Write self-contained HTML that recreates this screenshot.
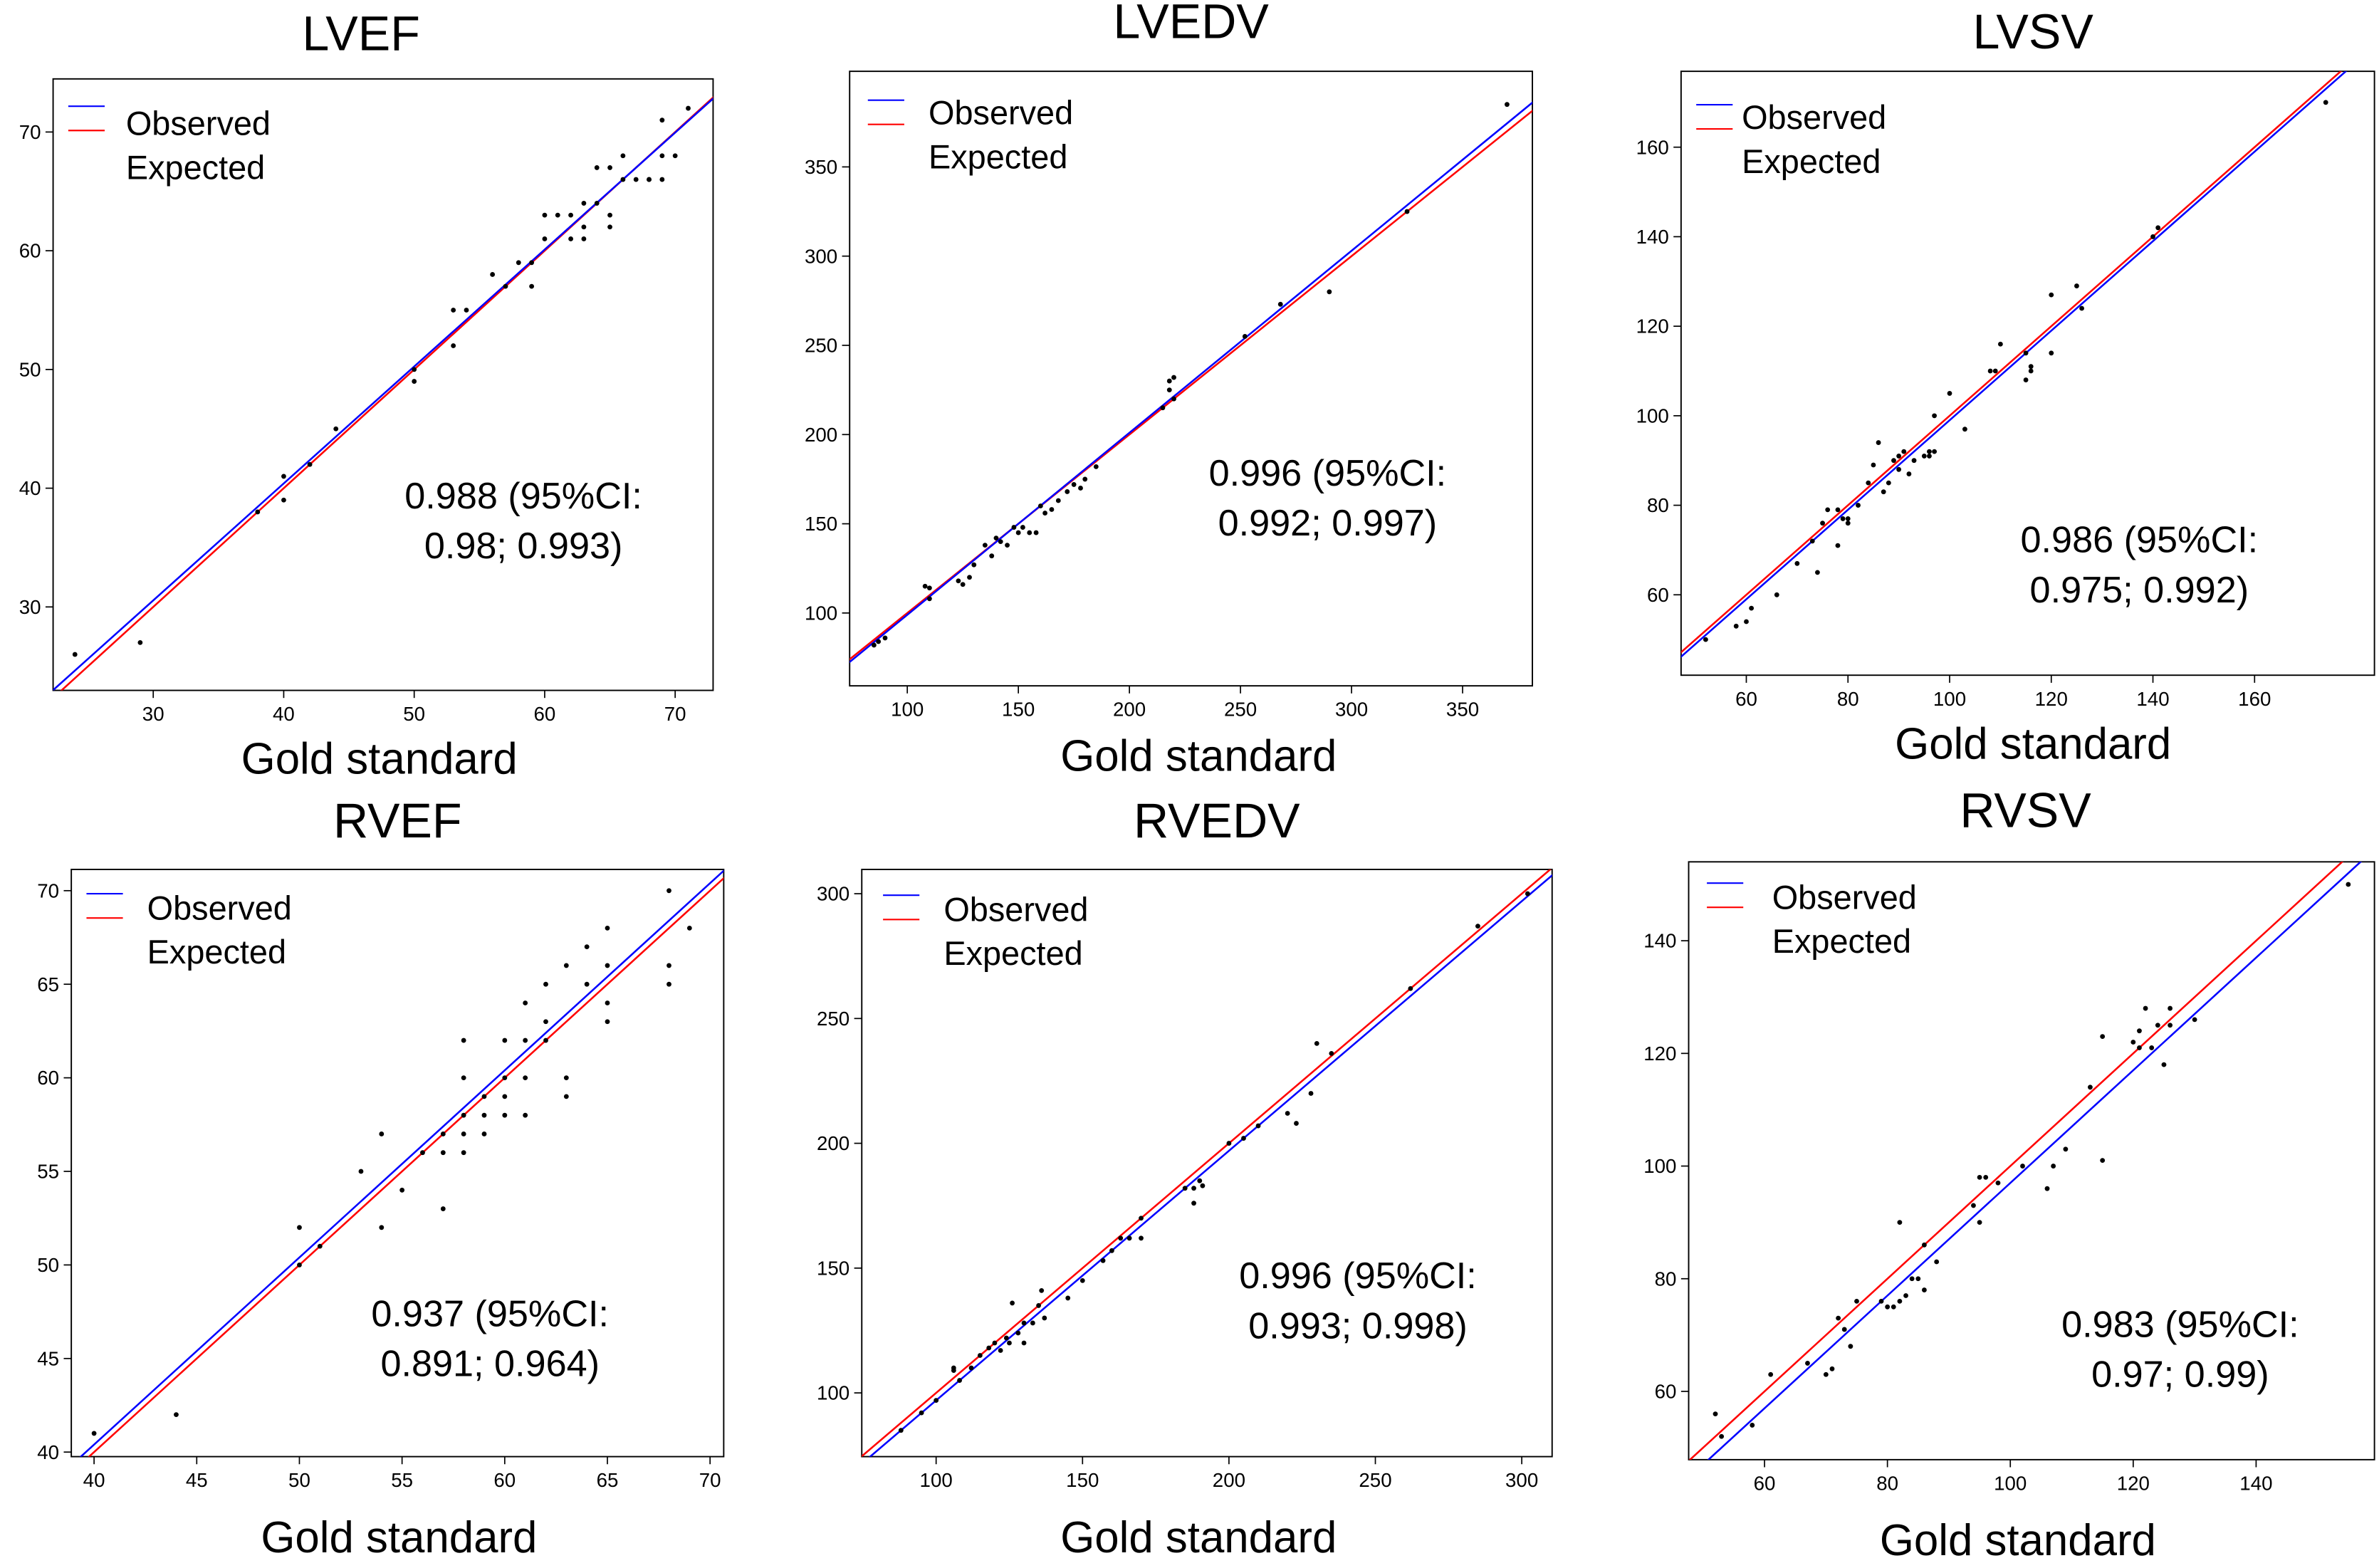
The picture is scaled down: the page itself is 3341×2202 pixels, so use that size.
<!DOCTYPE html>
<html><head><meta charset="utf-8"><style>
html,body{margin:0;padding:0;background:#fff;}
svg{display:block;font-family:"Liberation Sans",sans-serif;}
</style></head><body>
<svg id="fig" width="3341" height="2202" viewBox="0 0 1568 1033.4" preserveAspectRatio="none" xmlns="http://www.w3.org/2000/svg">
<rect width="1568" height="1034" fill="#fff"/>
</svg>
<script>
// ---- data ----
const lvefX=[24,29,38,40,40,42,44,50,50,53,53,54,56,57,58,59,60,60,61,62,62,63,63,63,64,64,65,65,65,66,66,67,68,68,69,69,69,70,71,59];
const lvefY=[26,27,38,41,39,42,45,50,49,55,52,55,58,57,59,57,61,63,63,61,63,61,62,64,67,64,67,62,63,68,66,66,66,66,71,68,66,68,72,59];
const lvedvX=[85,87,90,108,110,110,123,125,128,130,135,138,140,142,145,148,150,152,155,158,160,162,165,168,172,175,178,180,185,215,218,220,218,220,252,268,290,325,370];
const lvedvY=[82,84,86,115,114,108,118,116,120,127,138,132,142,140,138,148,145,148,145,145,160,156,158,163,168,172,170,175,182,215,230,232,225,220,255,273,280,325,385];
const lvsvX=[52,58,60,61,66,70,73,74,75,76,78,78,79,80,80,84,85,86,87,88,89,90,91,92,93,95,96,96,97,97,100,103,108,109,110,115,115,116,116,120,120,125,126,140,141,174,82,90];
const lvsvY=[50,53,54,57,60,67,72,65,76,79,79,71,77,77,76,85,89,94,83,85,90,88,92,87,90,91,92,91,92,100,105,97,110,110,116,114,108,111,110,127,114,129,124,140,142,170,80,91];
const rvefX=[40,44,50,50,51,53,54,54,55,57,57,57,58,58,58,58,58,59,59,59,60,60,60,61,61,61,61,62,62,62,63,63,63,64,64,65,65,65,65,68,68,68,69,56,60];
const rvefY=[41,42,52,50,51,55,57,52,54,57,56,53,62,60,58,56,57,59,58,57,62,58,59,64,62,60,58,65,63,62,66,60,59,67,65,68,66,64,63,70,66,65,68,56,60];
const rvedvX=[88,95,100,106,106,108,112,115,118,120,122,124,125,126,128,130,130,133,135,136,137,145,150,157,160,163,166,170,185,188,188,190,191,200,205,210,220,223,228,230,235,262,285,302,170];
const rvedvY=[85,92,97,110,109,105,110,115,118,120,117,122,120,136,124,120,128,128,135,141,130,138,145,153,157,162,162,162,182,176,182,185,183,200,202,207,212,208,220,240,236,262,287,300,170];
const rvsvX=[52,53,58,61,67,70,71,72,73,74,75,79,80,81,82,82,83,84,85,86,86,88,94,95,95,96,98,102,106,107,109,113,115,115,120,121,121,122,123,124,125,126,126,130,155];
const rvsvY=[56,52,54,63,65,63,64,73,71,68,76,76,75,75,76,90,77,80,80,78,86,83,93,98,90,98,97,100,96,100,103,114,123,101,122,121,124,128,121,125,118,128,125,126,150];
const panelTitles=["LVEF","LVEDV","LVSV","RVEF","RVEDV","RVSV"];
const iccText=[["0.988 (95%CI:","0.98; 0.993)"],["0.996 (95%CI:","0.992; 0.997)"],["0.986 (95%CI:","0.975; 0.992)"],["0.937 (95%CI:","0.891; 0.964)"],["0.996 (95%CI:","0.993; 0.998)"],["0.983 (95%CI:","0.97; 0.99)"]];
const xTicks=[[30,40,50,60,70],[100,150,200,250,300,350],[60,80,100,120,140,160],[40,45,50,55,60,65,70],[100,150,200,250,300],[60,80,100,120,140]];
const yTicks=[[30,40,50,60,70],[100,150,200,250,300,350],[60,80,100,120,140,160],[40,45,50,55,60,65,70],[100,150,200,250,300],[60,80,100,120,140]];
const obsIntercept=[1.0,-3,-1,0.4,-3,-3];
const obsSlope=[0.985,1.02,1,1,1,1];
// ---- layout ----
const L=[
 {box:[35,52,470,455],xa:[30,101,70,445],ya:[30,400,70,87],title:[238,33],ann:[345,335],xl:[250,510],leg:[45,83,70,76]},
 {box:[560,47,1010,452],xa:[100,598,350,964],ya:[100,404,350,110],title:[785,25],ann:[875,320],xl:[790,508],leg:[572,612,66,69]},
 {box:[1108,47,1565,445],xa:[60,1151,160,1486],ya:[60,392,160,97],title:[1340,32],ann:[1410,364],xl:[1340,500],leg:[1118,1148,69,72]},
 {box:[47,573,477,960],xa:[40,62,70,468],ya:[40,957,70,587],title:[262,552],ann:[323,874],xl:[263,1023],leg:[57,97,589,593]},
 {box:[568,573,1023,960],xa:[100,617,300,1003],ya:[100,918,300,589],title:[802,552],ann:[895,849],xl:[790,1023],leg:[582,622,590,594]},
 {box:[1113,568,1565,962],xa:[60,1163,140,1487],ya:[60,917,140,620],title:[1335,545],ann:[1437,881],xl:[1330,1025],leg:[1125,1168,582,586]}
];
const dataX=[lvefX,lvedvX,lvsvX,rvefX,rvedvX,rvsvX];
const dataY=[lvefY,lvedvY,lvsvY,rvefY,rvedvY,rvsvY];
const NS="http://www.w3.org/2000/svg";
const svg=document.getElementById('fig');
function mk(tag,attrs,parent,txt){const e=document.createElementNS(NS,tag);for(const k in attrs)e.setAttribute(k,attrs[k]);if(txt!==undefined)e.textContent=txt;parent.appendChild(e);return e;}
L.forEach((p,i)=>{
 const sx=v=>p.xa[1]+(v-p.xa[0])*(p.xa[3]-p.xa[1])/(p.xa[2]-p.xa[0]);
 const sy=v=>p.ya[1]+(v-p.ya[0])*(p.ya[3]-p.ya[1])/(p.ya[2]-p.ya[0]);
 const ix=px=>p.xa[0]+(px-p.xa[1])*(p.xa[2]-p.xa[0])/(p.xa[3]-p.xa[1]);
 const g=mk('g',{},svg);
 
 
 const [x0,y0,x1,y1]=p.box;
 const t=mk('text',{x:p.title[0],y:p.title[1],'text-anchor':'middle','font-size':32},g,panelTitles[i]);
 
 
 const cid='clip'+i;
 const cp=mk('clipPath',{id:cid},g);mk('rect',{x:x0,y:y0,width:x1-x0,height:y1-y0},cp);
 const fr=mk('rect',{x:x0,y:y0,width:x1-x0,height:y1-y0,fill:'none',stroke:'#000','stroke-width':0.9},g);
 
 
 xTicks[i].forEach(v=>{const X=sx(v);
  const tk=mk('line',{x1:X,x2:X,y1:y1,y2:y1+5,stroke:'#000','stroke-width':0.8},g);
  
  
  const tl=mk('text',{x:X,y:y1+20,'text-anchor':'middle','font-size':13},g,String(v));
  
  });
 yTicks[i].forEach(v=>{const Y=sy(v);
  const tk=mk('line',{x1:x0-5,x2:x0,y1:Y,y2:Y,stroke:'#000','stroke-width':0.8},g);
  
  
  const tl=mk('text',{x:x0-8,y:Y+4.5,'text-anchor':'end','font-size':13},g,String(v));
  
  });
 const a=ix(x0-5),b=ix(x1+5);
 const cl=mk('g',{'clip-path':'url(#'+cid+')'},g);
 const ex=mk('line',{x1:sx(a),y1:sy(a),x2:sx(b),y2:sy(b),stroke:'#f00','stroke-width':1.2},cl);
 
 
 const ob=mk('line',{x1:sx(a),y1:sy(obsIntercept[i]+obsSlope[i]*a),x2:sx(b),y2:sy(obsIntercept[i]+obsSlope[i]*b),stroke:'#00f','stroke-width':1.2},cl);
 
 
 dataX[i].forEach((v,k)=>{
  const c=mk('circle',{cx:sx(v),cy:sy(dataY[i][k]),r:1.6,fill:'#000'},cl);
  
  });
 const [lx,tx,ly,ty]=p.leg;
 const l1=mk('line',{x1:lx,x2:lx+24,y1:ly,y2:ly,stroke:'#00f','stroke-width':1},g);
 
 
 const l2=mk('line',{x1:lx,x2:lx+24,y1:ly+16,y2:ly+16,stroke:'#f00','stroke-width':1},g);
 
 
 const t1=mk('text',{x:tx,y:ty+13,'font-size':22},g,'Observed');
 
 
 const t2=mk('text',{x:tx,y:ty+42,'font-size':22},g,'Expected');
 
 
 const an=mk('text',{x:p.ann[0],y:p.ann[1],'text-anchor':'middle','font-size':24.5},g);
 
 
 mk('tspan',{x:p.ann[0],dy:0},an,iccText[i][0]);
 mk('tspan',{x:p.ann[0],dy:33},an,iccText[i][1]);
 const xl=mk('text',{x:p.xl[0],y:p.xl[1],'text-anchor':'middle','font-size':29},g,'Gold standard');
 
 
});
</script>
</body></html>
